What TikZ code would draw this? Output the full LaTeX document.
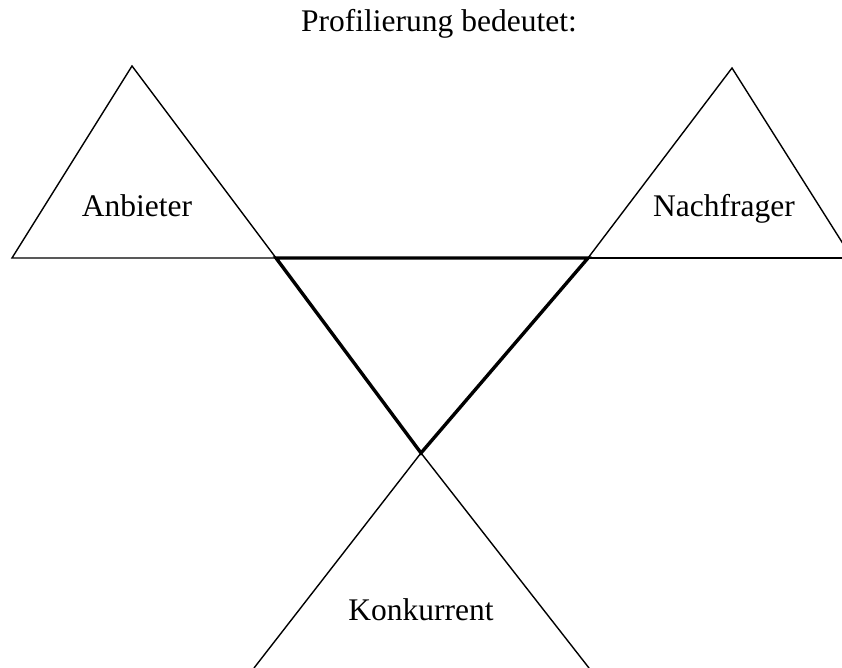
\documentclass[tikz,border=0pt]{standalone}
\usepackage{fontspec}
\setmainfont{Liberation Serif}
\begin{document}
\begin{tikzpicture}[x=1pt,y=-1pt,
  thinline/.style={line width=1.4pt,line join=miter},
  thickline/.style={line width=3.4pt,line join=miter},
  lbl/.style={anchor=base,inner sep=0pt,font=\fontsize{31.5}{36}\selectfont}]
\useasboundingbox (0,0) rectangle (842,668);
\clip (0,0) rectangle (842,668);
% coordinates
\coordinate (A1) at (12,258);
\coordinate (A2) at (132,66);
\coordinate (P1) at (276,258);
\coordinate (P2) at (588,258);
\coordinate (N2) at (732,68);
\coordinate (N3) at (852,258);
\coordinate (X) at (421,453);
\coordinate (K1) at (254,668);
\coordinate (K2) at (589,668);
% left triangle
\draw[thinline] (P1) -- (A1) -- (A2) -- (P1);
% right triangle
\draw[thinline] (P2) -- (N2) -- (N3);
\draw[thinline] (P2) -- (842,258);
% bottom triangle
\draw[thinline] (X) -- (K1);
\draw[thinline] (X) -- (K2);
% thick middle triangle
\draw[thickline] (P1) -- (P2) -- (X) -- cycle;
% labels
\node[lbl] (title) at (439,32) {Profilierung bedeutet:};
\node[lbl] (anb) at (137,217) {Anbieter};
\node[lbl] (nach) at (724,216) {Nachfrager};
\node[lbl] (konk) at (421,620) {Konkurrent};
\end{tikzpicture}
\end{document}
